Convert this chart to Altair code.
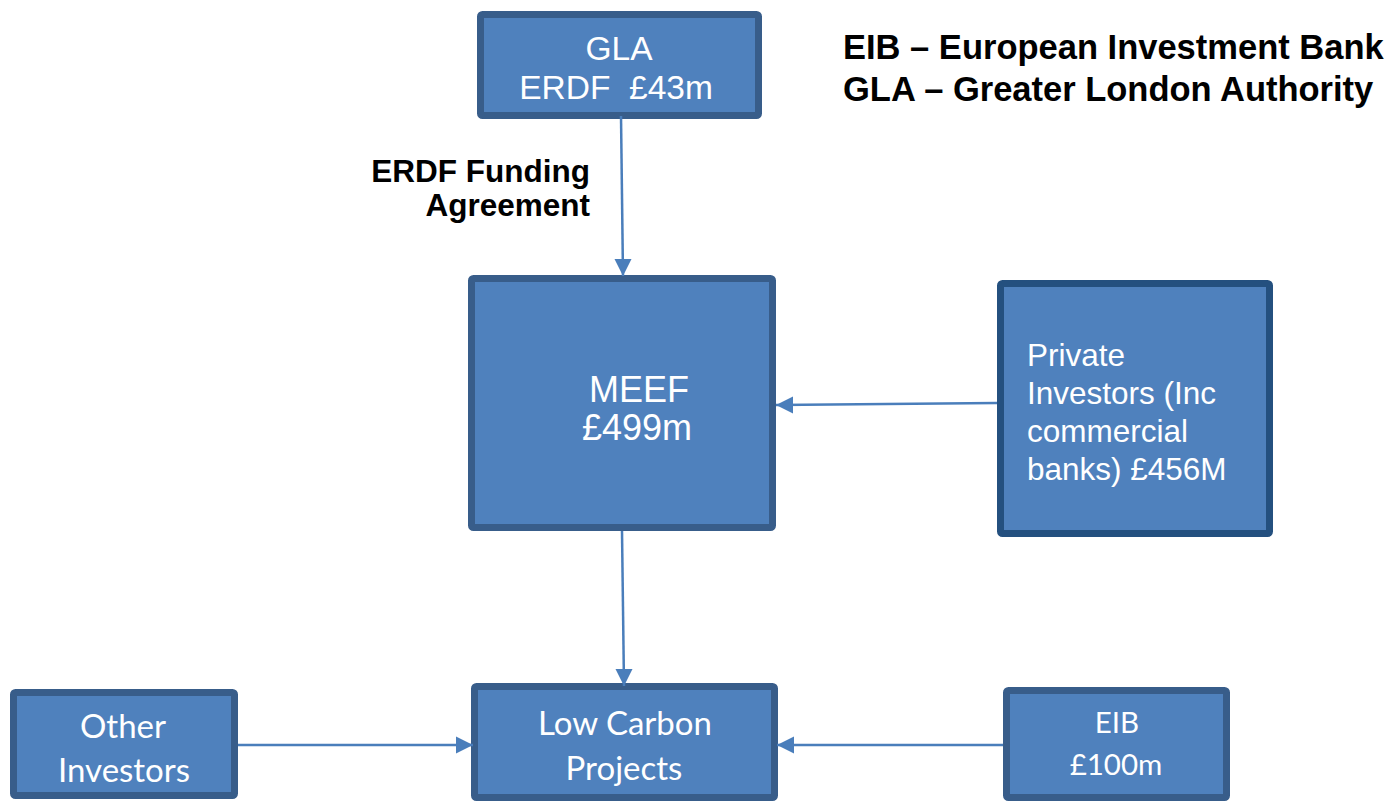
import altair as alt
import pandas as pd

# ---- boxes (outer edges, page pixels) ----
box_names = ["GLA", "MEEF", "Private", "Other", "LowCarbon", "EIB"]
box_x1 = [477, 468, 997, 10, 471, 1003]
box_x2 = [762, 776, 1273, 238, 778, 1230]
box_y1 = [11, 275, 280, 689, 683, 687]
box_y2 = [119, 531, 537, 799, 801, 801]
box_edge = ["#385D8A", "#385D8A", "#24507F", "#385D8A", "#385D8A", "#385D8A"]

# ---- connectors ----
arrow_from_x = [621, 997, 622, 238, 1003]
arrow_from_y = [116, 403, 531, 745, 745]
arrow_to_x = [623, 776, 624, 473, 777]
arrow_to_y = [276, 405, 686, 745, 745]
arrow_dir = ["down", "left", "down", "right", "left"]

# ---- labels inside boxes (Arial-like, centred) ----
arial_c_text = ["GLA", "ERDF\u00a0 £43m", "MEEF", "£499m"]
arial_c_x = [619, 616, 639, 637]
arial_c_y = [60, 99, 402, 440]
arial_c_size = [33.5, 33.5, 36, 36]

# ---- Private investors (Arial-like, left) ----
priv_text = ["Private", "Investors (Inc", "commercial", "banks) £456M"]
priv_x = [1027, 1027, 1027, 1027]
priv_y = [366, 404, 442, 480]

# ---- Calibri-like labels ----
cal_text = ["Other", "Investors", "Low Carbon", "Projects", "EIB", "£100m"]
cal_x = [123, 124, 625, 624, 1117, 1116]
cal_y = [738, 782, 735, 780, 733, 775]
cal_size = [33, 33, 33, 33, 29.5, 29.5]

# ---- bold annotations ----
note_text = ["ERDF Funding", "Agreement"]
note_x = [590, 590]
note_y = [182, 216]

legend_text = ["EIB – European Investment Bank", "GLA – Greater London Authority"]
legend_x = [843, 843]
legend_y = [59, 101]

W, H = 1377, 794
xs = alt.Scale(domain=[8, 8 + W], range=[0, W])
ys = alt.Scale(domain=[8, 8 + H], range=[0, H])

SW = 7
boxes = pd.DataFrame({
    "name": box_names,
    "x1": [v + SW / 2 for v in box_x1],
    "x2": [v - SW / 2 for v in box_x2],
    "y1": [v + SW / 2 for v in box_y1],
    "y2": [v - SW / 2 for v in box_y2],
    "edge": box_edge,
})

rects = alt.Chart(boxes).mark_rect(
    fill="#4F81BD", strokeWidth=SW, cornerRadius=2, strokeJoin="round"
).encode(
    x=alt.X("x1:Q", scale=xs, axis=None),
    x2="x2:Q",
    y=alt.Y("y1:Q", scale=ys, axis=None),
    y2="y2:Q",
    stroke=alt.Stroke("edge:N", scale=None),
)

arrows = pd.DataFrame({
    "fx": arrow_from_x, "fy": arrow_from_y,
    "tx": arrow_to_x, "ty": arrow_to_y, "dir": arrow_dir,
})
L = 8.5
arrows["hx"] = [t + (-L if d == "right" else L if d == "left" else 0) for t, d in zip(arrows["tx"], arrows["dir"])]
arrows["hy"] = [t + (-L if d == "down" else 0) for t, d in zip(arrows["ty"], arrows["dir"])]

lines = alt.Chart(arrows).mark_rule(color="#4A7EBB", strokeWidth=2.5).encode(
    x=alt.X("fx:Q", scale=xs, axis=None),
    y=alt.Y("fy:Q", scale=ys, axis=None),
    x2="tx:Q",
    y2="ty:Q",
)

heads = alt.Chart(arrows).mark_point(
    filled=True, color="#4A7EBB", opacity=1, size=289, strokeWidth=0
).encode(
    x=alt.X("hx:Q", scale=xs, axis=None),
    y=alt.Y("hy:Q", scale=ys, axis=None),
    shape=alt.Shape(
        "dir:N",
        scale=alt.Scale(
            domain=["down", "left", "right"],
            range=["M-1,-1L1,-1L0,1Z", "M1,-1L1,1L-1,0Z", "M-1,-1L-1,1L1,0Z"],
        ),
        legend=None,
    ),
)


def text_layer(texts, x, y, sizes, font, align, color, weight="normal"):
    df = pd.DataFrame({"t": texts, "x": x, "y": y, "s": sizes})
    return alt.Chart(df).mark_text(
        font=font, align=align, baseline="alphabetic", color=color, fontWeight=weight
    ).encode(
        x=alt.X("x:Q", scale=xs, axis=None),
        y=alt.Y("y:Q", scale=ys, axis=None),
        text="t:N",
        size=alt.Size("s:Q", scale=None, legend=None),
    )


t1 = text_layer(arial_c_text, arial_c_x, arial_c_y, arial_c_size, "Liberation Sans", "center", "white")
t2 = text_layer(priv_text, priv_x, priv_y, [31.5] * 4, "Liberation Sans", "left", "white")
t3 = text_layer(cal_text, cal_x, cal_y, cal_size, "Lato", "center", "white")
t4 = text_layer(note_text, note_x, note_y, [31.5, 31.5], "Liberation Sans", "right", "black", "bold")
t5 = text_layer(legend_text, legend_x, legend_y, [34.5, 34.5], "Liberation Sans", "left", "black", "bold")

chart = alt.layer(rects, lines, heads, t1, t2, t3, t4, t5).properties(
    width=W, height=H, padding=0, autosize=alt.AutoSizeParams(type="none"),
    background="white",
).configure_view(stroke=None)

chart.save("out.html", embed_options={"renderer": "svg", "actions": False})
